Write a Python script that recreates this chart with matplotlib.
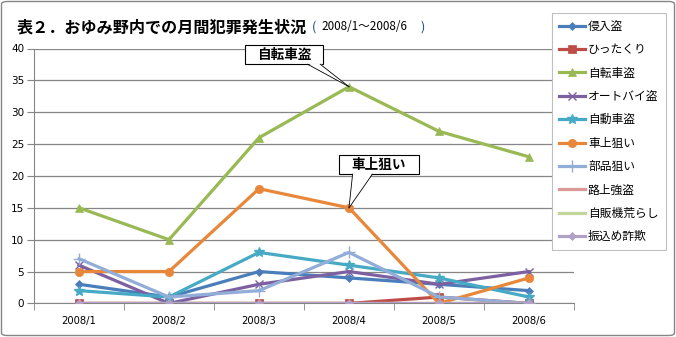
import matplotlib.pyplot as plt
from matplotlib.patches import FancyBboxPatch, Polygon, Rectangle

plt.rcParams['font.family'] = ['Noto Sans CJK JP', 'DejaVu Sans']

months = ["2008/1", "2008/2", "2008/3", "2008/4", "2008/5", "2008/6"]

names = ["侵入盗", "ひったくり", "自転車盗", "オートバイ盗", "自動車盗",
         "車上狙い", "部品狙い", "路上強盗", "自販機荒らし", "振込め詐欺"]

shinnyu = [3, 1, 5, 4, 3, 2]
hittakuri = [0, 0, 0, 0, 1, 0]
jitensha = [15, 10, 26, 34, 27, 23]
autobike = [6, 0, 3, 5, 3, 5]
jidosha = [2, 1, 8, 6, 4, 1]
shajo = [5, 5, 18, 15, 0, 4]
buhin = [7, 1, 2, 8, 1, 0]
rojo = [0, 0, 0, 0, 0, 0]
jihanki = [0, 0, 0, 0, 0, 0]
furikome = [0, 0, 0, 0, 0, 0]

series = [shinnyu, hittakuri, jitensha, autobike, jidosha,
          shajo, buhin, rojo, jihanki, furikome]

colors = ["#4A7EBB", "#BE4B48", "#98B954", "#7D60A0", "#46AAC5",
          "#E8873A", "#91ADD8", "#DC9896", "#C2D69A", "#B2A1C7"]
markers = ["D", "s", "^", "x", "*", "o", "+", None, None, "D"]
msizes = [4.5, 5.5, 6, 6, 7, 6, 9, 0, 0, 4.5]

fig = plt.figure(figsize=(6.76, 3.37), dpi=100)
ax = fig.add_axes([34 / 676, 1 - 303.4 / 337, 540 / 676, (303.4 - 48.5) / 337])

x = list(range(len(months)))
for vals, name, c, m, ms in zip(series, names, colors, markers, msizes):
    ax.plot(x, vals, color=c, lw=2.3, marker=m, markersize=ms,
            markeredgewidth=1.0 if m in ("x", "+", "*") else 0.5,
            markeredgecolor=c, label=name, zorder=3)

ax.set_xlim(-0.5, len(months) - 0.5)
ax.set_ylim(0, 40)
ax.set_yticks(range(0, 41, 5))
ax.grid(axis="y", color="#868686", lw=0.9)
ax.set_axisbelow(True)
ax.set_xticks(x)
ax.set_xticklabels(months, fontsize=7.2, family="DejaVu Sans")
ax.set_xticks([i - 0.5 for i in range(len(months) + 1)], minor=True)
ax.tick_params(axis="x", which="major", length=0, pad=9)
ax.tick_params(axis="x", which="minor", length=5, color="#868686")
ax.tick_params(axis="y", length=5, color="#868686", labelsize=7.5, pad=2)
for lab in ax.get_yticklabels():
    lab.set_family("DejaVu Sans")
for s in ["top", "right"]:
    ax.spines[s].set_visible(False)
ax.spines["left"].set_color("#868686")
ax.spines["bottom"].set_color("#868686")


def callout(x0, x1, y0, y1, bx0, bx1, tx, ty, text):
    # box + wedge pointing at a data point
    ax.add_patch(Rectangle((x0, y0), x1 - x0, y1 - y0, fc="white", ec="black",
                           lw=0.8, zorder=5, clip_on=False))
    ax.add_patch(Polygon([(bx0, y0 + 0.15), (bx1, y0 + 0.15), (tx, ty)],
                         closed=True, fc="white", ec="none", zorder=6))
    ax.plot([bx0, tx], [y0, ty], color="black", lw=0.6, zorder=6)
    ax.plot([bx1, tx], [y0, ty], color="black", lw=0.6, zorder=6)
    ax.text((x0 + x1) / 2, (y0 + y1) / 2, text, ha="center", va="center",
            fontsize=9.8, weight="bold", zorder=7)


callout(1.844, 2.711, 37.53, 40.5, 2.54, 2.68, x[3], jitensha[3], "自転車盗")
callout(2.889, 3.778, 20.28, 23.26, 3.04, 3.26, x[3], shajo[3], "車上狙い")

leg = fig.legend(loc="upper left", bbox_to_anchor=(552 / 676, 1 - 12.7 / 337),
                 fontsize=8.5, frameon=True, fancybox=False, handlelength=2.2,
                 handletextpad=0.25, labelspacing=0.88, borderpad=0.6,
                 borderaxespad=0)
leg.get_frame().set_edgecolor("#BFBFBF")
leg.get_frame().set_linewidth(0.8)
leg.get_frame().set_alpha(1)

fig.text(17 / 676, 1 - 27 / 337, "表２．おゆみ野内での月間犯罪発生状況",
         fontsize=11.6, weight="bold", va="center", ha="left")
fig.text(312 / 676, 1 - 27 / 337, "(", fontsize=9, color="#1F4E8C",
         va="center", ha="left")
fig.text(321 / 676, 1 - 27 / 337, "2008/1～2008/6", fontsize=8.4,
         va="center", ha="left")
fig.text(420 / 676, 1 - 27 / 337, ")", fontsize=9, color="#1F4E8C",
         va="center", ha="left")

fig.patches.append(FancyBboxPatch((1.5 / 676, 1.5 / 337), 673 / 676, 334 / 337,
                                  boxstyle="round,pad=0,rounding_size=0.008",
                                  transform=fig.transFigure, fc="none",
                                  ec="#868686", lw=1))

fig.savefig("out.png", dpi=100)
